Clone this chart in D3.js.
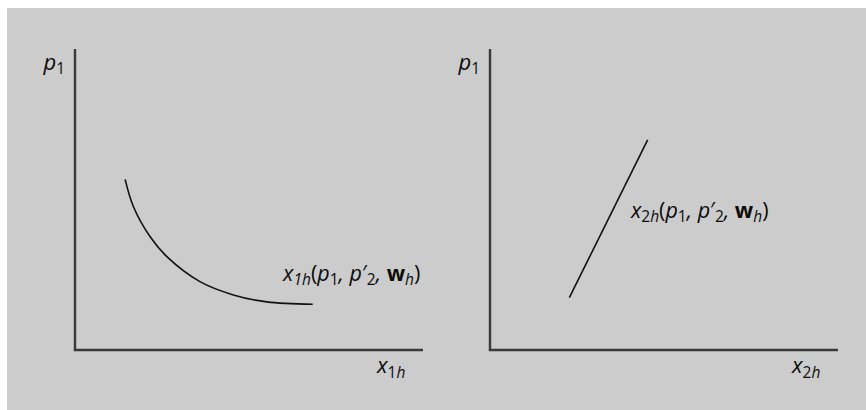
<!DOCTYPE html>
<html>
<head>
<meta charset="utf-8">
<script src="https://cdn.jsdelivr.net/npm/d3@7"></script>
<style>
  html, body { margin: 0; padding: 0; background: #ffffff; }
  svg { display: block; }
  text { font-family: "Open Sans", "Noto Sans", sans-serif; fill: #0d0d0d; }
</style>
</head>
<body>
<svg id="chart" width="866" height="410"></svg>
<script>
// Demand for good 1 as a function of its own price p1 (falling curve)
const demandX1 = [1.44, 1.68, 2.16, 2.64, 3.59, 4.55, 5.51, 6.83];
const demandP1 = [5.67, 4.76, 3.76, 3.10, 2.27, 1.83, 1.60, 1.52];

// Demand for good 2 as p1 changes (rising straight line)
const demandX2 = [2.28, 4.53];
const demandP1b = [1.74, 6.98];

// Axis domains shared by both panels
const xDomain = [0, 10];
const yDomain = [0, 10];

// Label anchor points, in data units
const curveLabelLeft = [5.98, 2.28];
const curveLabelRight = [4.05, 4.40];

const svg = d3.select("#chart");

// Grey panel behind the two diagrams
svg.append("rect")
  .attr("x", 7).attr("y", 8)
  .attr("width", 859).attr("height", 402)
  .attr("fill", "#cccccc");

const y = d3.scaleLinear().domain(yDomain).range([350, 49]);
const xLeft = d3.scaleLinear().domain(xDomain).range([75, 423]);
const xRight = d3.scaleLinear().domain(xDomain).range([490, 838]);

function drawAxes(x, sub) {
  const g = svg.append("g");
  // vertical p1 axis
  g.append("line")
    .attr("x1", x(0)).attr("x2", x(0))
    .attr("y1", y(yDomain[1])).attr("y2", y(0))
    .attr("stroke", "#3a3a3a").attr("stroke-width", 2.4);
  // horizontal quantity axis
  g.append("line")
    .attr("x1", x(0) - 1.2).attr("x2", x(xDomain[1]))
    .attr("y1", y(0)).attr("y2", y(0))
    .attr("stroke", "#3a3a3a").attr("stroke-width", 2.4);

  // p1 label to the left of the top of the vertical axis
  const pl = g.append("text")
    .attr("x", x(0) - 10).attr("y", y(yDomain[1]) + 21)
    .attr("text-anchor", "end")
    .style("font-size", "22px");
  pl.append("tspan").style("font-style", "italic").text("p");
  pl.append("tspan").attr("dy", 4).style("font-size", "15.5px").text("1");

  // quantity label under the right end of the horizontal axis
  const xl = g.append("text")
    .attr("x", x(xDomain[1]) - 46).attr("y", y(0) + 23)
    .style("font-size", "22px");
  xl.append("tspan").style("font-style", "italic").text("x");
  xl.append("tspan").attr("dy", 5).style("font-size", "15.5px").text(sub);
  xl.append("tspan").style("font-size", "15.5px").style("font-style", "italic").text("h");
}

drawAxes(xLeft, "1");
drawAxes(xRight, "2");

// Falling demand curve, left panel
const leftPts = demandX1.map((v, i) => [v, demandP1[i]]);
svg.append("path")
  .datum(leftPts)
  .attr("d", d3.line()
    .x(d => xLeft(d[0]))
    .y(d => y(d[1]))
    .curve(d3.curveCatmullRom.alpha(0.5)))
  .attr("fill", "none")
  .attr("stroke", "#111")
  .attr("stroke-width", 1.6);

// Rising demand line, right panel
const rightPts = demandX2.map((v, i) => [v, demandP1b[i]]);
svg.append("path")
  .datum(rightPts)
  .attr("d", d3.line().x(d => xRight(d[0])).y(d => y(d[1])))
  .attr("fill", "none")
  .attr("stroke", "#111")
  .attr("stroke-width", 1.6);

// Function labels: x_{ih}(p1, p'2, w_h)
function funcLabel(x, pos, idx, italicIdx) {
  const t = svg.append("text")
    .attr("x", x(pos[0])).attr("y", y(pos[1]))
    .style("font-size", "21.5px");
  const sub = "15.5px";
  t.append("tspan").style("font-style", "italic").text("x");
  t.append("tspan").attr("dy", 4).style("font-size", sub)
    .style("font-style", italicIdx ? "italic" : "normal").text(idx);
  t.append("tspan").style("font-size", sub).style("font-style", "italic").text("h");
  t.append("tspan").attr("dy", -4).text("(");
  t.append("tspan").style("font-style", "italic").text("p");
  t.append("tspan").attr("dy", 4).style("font-size", sub).text("1");
  t.append("tspan").attr("dy", -4).style("font-style", "italic").text(", p");
  t.append("tspan").text("\u2032");
  t.append("tspan").attr("dy", 4).style("font-size", sub).text("2");
  t.append("tspan").attr("dy", -4).style("font-style", "italic").text(", ");
  t.append("tspan").style("font-weight", "bold").text("w");
  t.append("tspan").attr("dy", 4).style("font-size", sub).style("font-style", "italic").text("h");
  t.append("tspan").attr("dy", -4).text(")");
}

funcLabel(xLeft, curveLabelLeft, "1", true);
funcLabel(xRight, curveLabelRight, "2", false);
</script>
</body>
</html>
